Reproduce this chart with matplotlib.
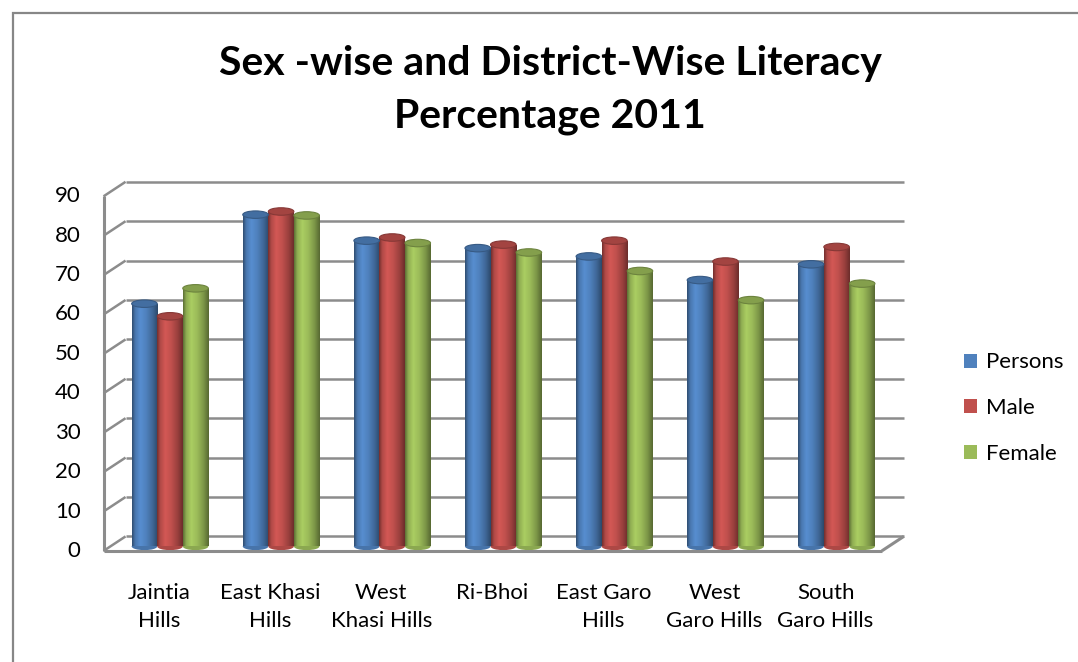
import numpy as np
import matplotlib
matplotlib.use("Agg")
import matplotlib.pyplot as plt
from matplotlib.patches import Ellipse, Patch, Rectangle
from matplotlib.lines import Line2D
import matplotlib.transforms as mtransforms
from matplotlib.colors import to_rgb

# ---------------- data ----------------
districts = ["Jaintia\nHills", "East Khasi\nHills", "West\nKhasi Hills", "Ri-Bhoi",
             "East Garo\nHills", "West\nGaro Hills", "South\nGaro Hills"]
persons = [61.6, 84.2, 77.6, 75.7, 73.6, 67.6, 71.6]
male = [58.4, 85.0, 78.4, 76.6, 77.6, 72.3, 76.0]
female = [65.5, 84.0, 77.0, 74.6, 69.9, 62.5, 66.7]
series_names = ["Persons", "Male", "Female"]
yticks = list(range(0, 100, 10))
title = "Sex -wise and District-Wise Literacy\nPercentage 2011"

colors = ["#4F81BD", "#C0504D", "#9BBB59"]
FONT = ["Lato", "DejaVu Sans"]
plt.rcParams["font.family"] = FONT
FS = 16

W, H = 1078, 662
fig = plt.figure(figsize=(W / 100, H / 100), dpi=100)

# axes placement in pixels (top-left origin)
L, R, T, B = 100, 920, 170, 560
ax = fig.add_axes([L / W, 1 - B / H, (R - L) / W, (B - T) / H])
x0px, dxpx = 170.0, 111.1
base_px, vpx = 546.4, 3.94
ax.set_xlim((L - x0px) / dxpx, (R - x0px) / dxpx)
ax.set_ylim((base_px - B) / vpx, (base_px - T) / vpx)
ax.autoscale(False)
ax.axis("off")

# depth offsets (pixels, y up)
BACK = (15.0, 10.0)
FRONT = (-7.0, -4.5)
xl, xr = -0.535, 6.47
grid_c = "#8C8C8C"

def disp(x, v, off):
    p = ax.transData.transform((x, v))
    return p[0] + off[0], p[1] + off[1]

ident = mtransforms.IdentityTransform()

def seg(p, q, lw=1.8, z=0.5, c=grid_c):
    ax.add_line(Line2D([p[0], q[0]], [p[1], q[1]], transform=ident,
                       color=c, lw=lw, zorder=z, solid_capstyle="butt"))

# back wall gridlines + left wall diagonals
for v in yticks:
    seg(disp(xl, v, BACK), disp(xr, v, BACK))
    seg(disp(xl, v, FRONT), disp(xl, v, BACK))
# front vertical axis line
seg(disp(xl, 0, FRONT), disp(xl, 90, FRONT), lw=2.2)
# floor front edge and right diagonal
seg(disp(xl, 0, FRONT), disp(xr, 0, FRONT), lw=2.2, z=5)
seg(disp(xr, 0, FRONT), disp(xr, 0, BACK), lw=2.2, z=5)

# y tick labels on the front plane
lab_tr = ax.transData + mtransforms.ScaledTranslation((FRONT[0] - 23) / 100, FRONT[1] / 100,
                                                     fig.dpi_scale_trans)
for v in yticks:
    ax.text(xl, v, str(v), transform=lab_tr, ha="right", va="center",
            fontsize=FS, color="black")

# ---------------- cylinders ----------------
bw = 0.23
ell_h = 1.9
prof_t = np.array([0.0, 0.12, 0.32, 0.55, 0.8, 1.0])
prof_f = np.array([0.60, 0.92, 1.10, 1.0, 0.80, 0.56])
tt = np.linspace(0, 1, 64)
fac = np.interp(tt, prof_t, prof_f)

all_vals = [persons, male, female]
for s, (vals, col) in enumerate(zip(all_vals, colors)):
    rgb = np.array(to_rgb(col))
    grad = np.clip(fac[:, None] * rgb[None, :], 0, 1)[None, :, :]
    xs = np.arange(len(vals)) + (s - 1) * bw
    bars = ax.bar(xs, vals, width=bw, color=col, zorder=2 + s * 0.01, linewidth=0)
    for b, xc, v in zip(bars, xs, vals):
        ax.add_patch(Ellipse((xc, 0), bw, ell_h, facecolor=tuple(rgb * 0.9), zorder=1.9, lw=0))
        im = ax.imshow(grad, extent=[xc - bw / 2, xc + bw / 2, 0, v], aspect="auto",
                       zorder=2.1 + s * 0.01, interpolation="bilinear")
        im.set_clip_path(b)
        ax.add_patch(Ellipse((xc, v), bw, ell_h, facecolor=tuple(np.clip(rgb * 0.85, 0, 1)),
                             edgecolor=tuple(np.clip(rgb * 0.7, 0, 1)), lw=0.8,
                             zorder=2.2 + s * 0.01))

ax.set_xlim((L - x0px) / dxpx, (R - x0px) / dxpx)
ax.set_ylim((base_px - B) / vpx, (base_px - T) / vpx)

# x category labels
xlab_tr = ax.transData + mtransforms.ScaledTranslation(-11 / 100, 0, fig.dpi_scale_trans)
for i, name in enumerate(districts):
    ax.text(i, (base_px - 583) / vpx, name, transform=xlab_tr, ha="center", va="top",
            fontsize=FS, linespacing=1.5, color="black")

# title
fig.text(550 / W, 1 - 90 / H, title, ha="center", va="center", fontsize=29.5,
         fontweight="bold", linespacing=1.52)

# legend
handles = [Patch(facecolor=c, edgecolor="none") for c in colors]
fig.legend(handles, series_names, loc="center left", bbox_to_anchor=(964 / W, 1 - 408 / H),
           frameon=False, fontsize=FS, handlelength=0.6, handleheight=0.6,
           handletextpad=0.4, labelspacing=1.15, borderaxespad=0, borderpad=0)

# outer chart frame
fig.add_artist(Rectangle((13 / W, -0.1), 1.2, 1.1 - 13 / H, transform=fig.transFigure,
                         fill=False, edgecolor="#878787", lw=1.6))

fig.savefig("out.png", dpi=100)
